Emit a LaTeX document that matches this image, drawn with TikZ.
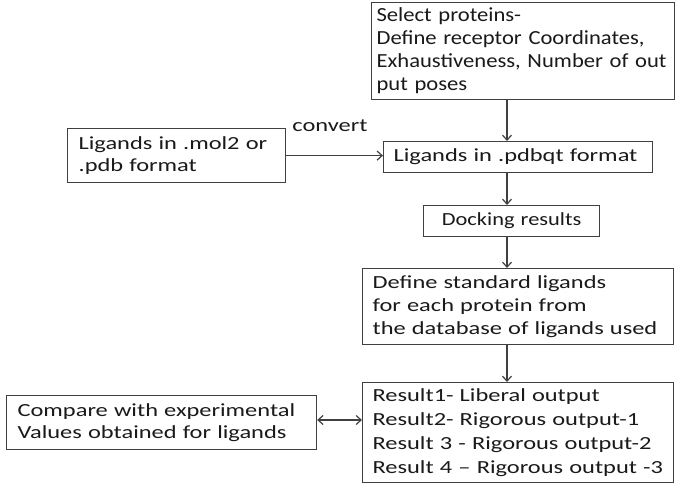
\documentclass[tikz,border=0pt]{standalone}
\usepackage{fontspec}
\setmainfont{Carlito}
\newfontfamily\fa[FakeStretch=1.13, WordSpace=0.8]{Carlito}
\newfontfamily\fb[FakeStretch=1.32, WordSpace=0.75]{Carlito}
\newfontfamily\fc[FakeStretch=1.21, WordSpace=0.6]{Carlito}
\newcommand{\myline}[1]{\mbox{#1}}
\usetikzlibrary{arrows.meta}
\definecolor{boxline}{HTML}{404040}
\definecolor{txt}{HTML}{1A1A1A}
\tikzset{
  box/.style={draw=boxline, line width=1.2pt, fill=white, anchor=north west, align=left,
    inner xsep=10pt, inner ysep=0pt, text=txt, font=\fb\fontsize{18.5}{23}\selectfont},
  conn/.style={draw=boxline, line width=1.2pt, -{Straight Barb[length=5pt,width=9pt]}},
  conn2/.style={draw=boxline, line width=1.2pt, {Straight Barb[length=5pt,width=9pt]}-{Straight Barb[length=5pt,width=9pt]}}
}
\begin{document}
\begin{tikzpicture}[x=1pt,y=-1pt]
\useasboundingbox[fill=white] (0,0) rectangle (685,483);
\node[box, text width=293pt, minimum height=97pt, inner xsep=5pt, font=\fa\fontsize{20}{23}\selectfont] (sel) at (371,2)
  {\myline{Select proteins-}\\\myline{Define receptor Coordinates,}\\\myline{Exhaustiveness, Number of out}\\\myline{put poses}};
\node[box, text width=196pt, minimum height=54pt, inner xsep=11pt, font=\fb\fontsize{18.5}{22}\selectfont] (mol) at (67,128)
  {\myline{Ligands in .mol2 or}\\\myline{.pdb format}};
\node[box, text width=249pt, minimum height=31pt, inner xsep=10pt] (pdb) at (383,141)
  {\myline{Ligands in .pdbqt format}};
\node[box, text width=164pt, minimum height=31pt, inner xsep=6pt, align=center, font=\fc\fontsize{18.5}{23}\selectfont] (dock) at (423,205)
  {\myline{Docking results}};
\node[box, text width=291pt, minimum height=76pt] (def) at (362,268)
  {\myline{Define standard ligands}\\\myline{for each protein from}\\\myline{the database of ligands used}};
\node[box, text width=291pt, minimum height=100pt, font=\fb\fontsize{18.5}{24}\selectfont] (res) at (362,382)
  {\myline{Result1- Liberal output}\\\myline{Result2- Rigorous output-1}\\\myline{Result 3 - Rigorous output-2}\\\myline{Result 4 – Rigorous output -3}};
\node[box, text width=288pt, minimum height=54pt, inner xsep=11pt, font=\fb\fontsize{18.5}{22}\selectfont] (cmp) at (6,395)
  {\myline{Compare with experimental}\\\myline{Values obtained for ligands}};
\node[text=txt, font=\fb\fontsize{18.5}{23}\selectfont, inner sep=0pt] (cv) at (330,126) {convert};
\coordinate (ax) at (507,0);
\draw[conn] (sel.south -| ax) -- (pdb.north -| ax);
\draw[conn] (pdb.south -| ax) -- (dock.north -| ax);
\draw[conn] (dock.south -| ax) -- (def.north -| ax);
\draw[conn] (def.south -| ax) -- (res.north -| ax);
\draw[conn] (mol.east) -- (mol.east -| pdb.west);
\coordinate (cy) at (0,420);
\draw[conn2] (cmp.east |- cy) -- (res.west |- cy);
\end{tikzpicture}
\end{document}
